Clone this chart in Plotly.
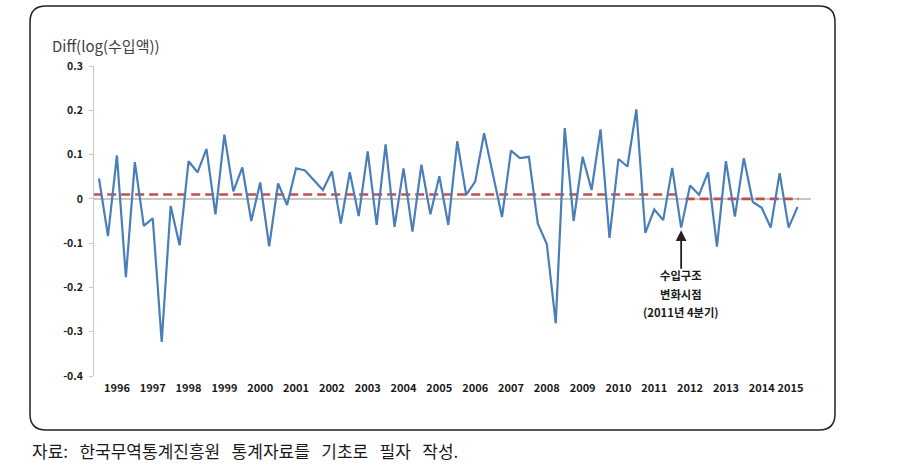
import plotly.graph_objects as go

# ---------------- data ----------------
start_year, start_q = 1995, 3
values = [0.046, -0.084, 0.098, -0.177, 0.083, -0.061, -0.044, -0.323, -0.016, -0.105,
          0.085, 0.060, 0.113, -0.035, 0.145, 0.017, 0.071, -0.050, 0.037, -0.107,
          0.035, -0.014, 0.069, 0.064, 0.042, 0.020, 0.062, -0.056, 0.060, -0.039,
          0.107, -0.059, 0.123, -0.063, 0.069, -0.074, 0.077, -0.035, 0.051, -0.059,
          0.130, 0.009, 0.039, 0.148, 0.054, -0.041, 0.109, 0.092, 0.095, -0.056,
          -0.102, -0.281, 0.160, -0.050, 0.095, 0.020, 0.157, -0.088, 0.090, 0.073,
          0.202, -0.077, -0.024, -0.048, 0.070, -0.065, 0.030, 0.009, 0.060, -0.108,
          0.085, -0.040, 0.092, -0.007, -0.020, -0.065, 0.058, -0.065, -0.018]
quarters = []
y, q = start_year, start_q
for _ in values:
    quarters.append(f"{y}Q{q}")
    q += 1
    if q > 4:
        q = 1
        y += 1
xidx = list(range(len(values)))

year_labels = [str(yr) for yr in range(1996, 2016)]
mean_before = 0.010
mean_after = 0.000
break_quarter = "2011Q4"

y_ticks = [0.3, 0.2, 0.1, 0, -0.1, -0.2, -0.3, -0.4]
y_ticktext = ["0.3", "0.2", "0.1", "0", "-0.1", "-0.2", "-0.3", "-0.4"]

caption_parts = ["자료:", "한국무역통계진흥원", "통계자료를", "기초로", "필자", "작성."]

# ---------------- layout geometry ----------------
W, H = 916, 465
L, R, T, B = 94, 811, 66, 376
PW, PH = R - L, B - T


def px(xp):
    return (xp - L) / PW


def py(yp):
    return (B - yp) / PH


KFONT = "Noto Sans CJK KR"

fig = go.Figure()

brk = quarters.index(break_quarter)

# mean lines (dashed red)
fig.add_trace(go.Scatter(x=[-0.65, brk - 0.5], y=[mean_before, mean_before], mode="lines",
                         line=dict(color="#c0504d", width=2.6, dash="9px,5px"),
                         hoverinfo="skip", showlegend=False))
fig.add_trace(go.Scatter(x=[brk + 0.5, len(values) - 0.9], y=[mean_after, mean_after], mode="lines",
                         line=dict(color="#c0504d", width=2.6, dash="9px,5px"),
                         hoverinfo="skip", showlegend=False))
# main series
fig.add_trace(go.Scatter(x=xidx, y=values, mode="lines",
                         line=dict(color="#4a7ebb", width=2.2),
                         text=quarters, showlegend=False))

# year tick positions (Q1 of each year)
tickvals = []
for yl in year_labels:
    key = f"{yl}Q1"
    pos = quarters.index(key) if key in quarters else len(values) - 1
    if yl == "2015":
        pos -= 0.8
    tickvals.append(pos)

# frame (rounded rectangle)
fx0, fx1, fy0, fy1, r = 30, 835, 6, 430, 16
path_pts = [
    ("M", (fx0 + r, fy0)), ("L", (fx1 - r, fy0)), ("Q", (fx1, fy0), (fx1, fy0 + r)),
    ("L", (fx1, fy1 - r)), ("Q", (fx1, fy1), (fx1 - r, fy1)),
    ("L", (fx0 + r, fy1)), ("Q", (fx0, fy1), (fx0, fy1 - r)),
    ("L", (fx0, fy0 + r)), ("Q", (fx0, fy0), (fx0 + r, fy0)),
]
path = ""
for item in path_pts:
    cmd = item[0]
    pts = " ".join(f"{px(a):.5f},{py(b):.5f}" for a, b in item[1:])
    path += f"{cmd} {pts} "
path += "Z"

gap = "\u00a0\u00a0\u00a0"
caption = gap.join(caption_parts)

bold_small = dict(family=KFONT, size=11.3, color="#1a1a1a", weight="bold")

fig.update_layout(
    width=W, height=H,
    margin=dict(l=L, r=W - R, t=T, b=H - B),
    paper_bgcolor="white", plot_bgcolor="white",
    xaxis=dict(range=[-0.56, 79.5], showgrid=False, zeroline=False, showline=False,
               tickmode="array", tickvals=tickvals, ticktext=year_labels,
               ticks="", tickfont=dict(family=KFONT, size=11, color="#1a1a1a", weight="bold"),
               ticklabelstandoff=4),
    yaxis=dict(range=[-0.4, 0.3], showgrid=False, zeroline=True, zerolinecolor="#c8c8c8",
               zerolinewidth=1.5, showline=True, linecolor="#c8c8c8", linewidth=1,
               tickmode="array", tickvals=y_ticks, ticktext=y_ticktext,
               ticks="outside", ticklen=4, tickcolor="#c8c8c8",
               tickfont=dict(family=KFONT, size=10.5, color="#1a1a1a", weight="bold"),
               ticklabelstandoff=4),
    shapes=[dict(type="path", xref="paper", yref="paper", path=path,
                 line=dict(color="#222222", width=1.5), fillcolor="rgba(0,0,0,0)", layer="below")],
    annotations=[
        dict(text="Diff(log(수입액))", xref="paper", yref="paper", x=px(50), y=py(45),
             xanchor="left", yanchor="middle", showarrow=False,
             font=dict(family=KFONT, size=15, color="#404040")),
        dict(text="", x=brk, y=values[brk] - 0.006, xref="x", yref="y",
             showarrow=True, arrowhead=2, arrowsize=1.2, arrowwidth=1.8, arrowcolor="#222222",
             ax=0, ay=40),
        dict(text="수입구조", x=brk, y=py(285), xref="x", yref="paper", showarrow=False,
             font=bold_small),
        dict(text="변화시점", x=brk, y=py(304), xref="x", yref="paper", showarrow=False,
             font=bold_small),
        dict(text="(2011년 4분기)", x=brk, y=py(322), xref="x", yref="paper", showarrow=False,
             font=bold_small),
        dict(text=caption, xref="paper", yref="paper",
             x=px(30), y=py(450), xanchor="left", yanchor="middle", showarrow=False,
             font=dict(family=KFONT, size=17, color="#1a1a1a")),
    ],
)

fig.write_html("out.html")
